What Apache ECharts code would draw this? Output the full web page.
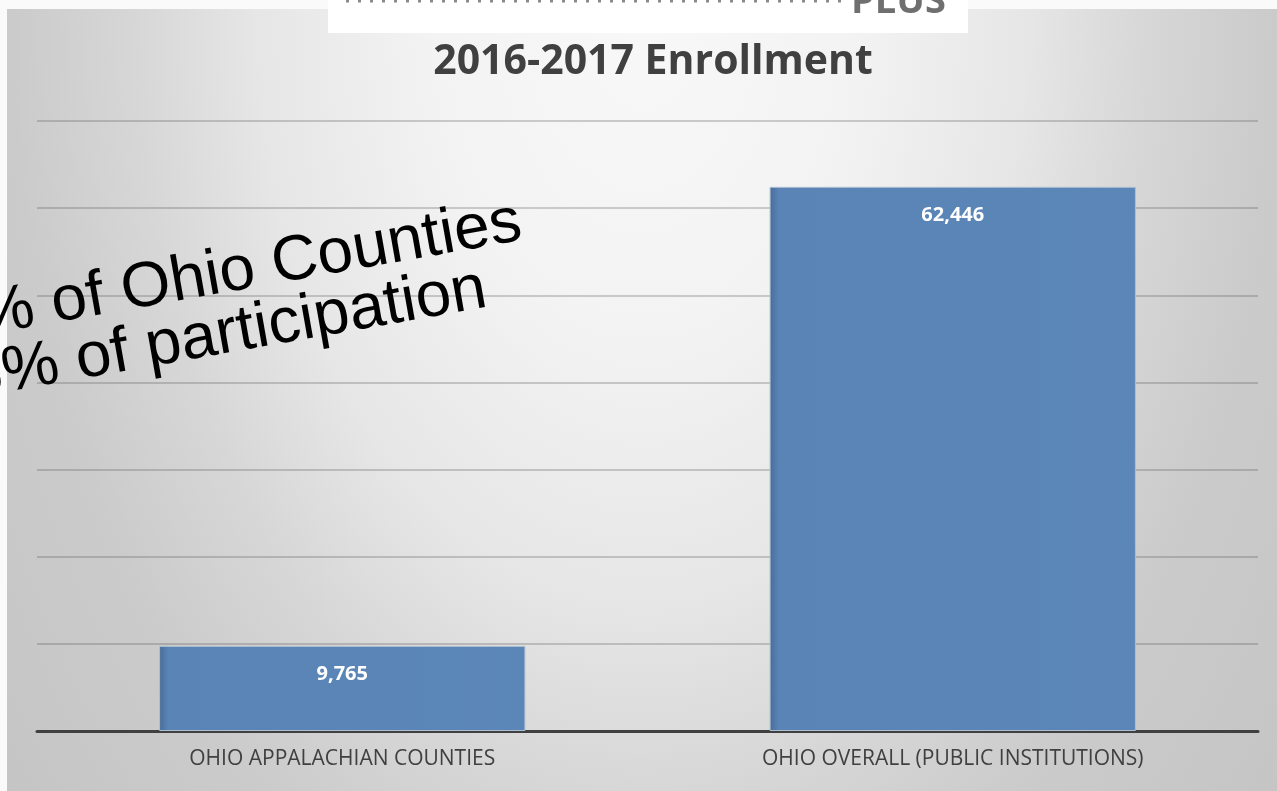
<!DOCTYPE html>
<html>
<head>
<meta charset="utf-8">
<style>html,body{margin:0;padding:0;background:#fafafa;}#c{width:1277px;height:791px;}</style>
<script src="https://cdn.jsdelivr.net/npm/echarts@6/dist/echarts.min.js"></script>
</head>
<body>
<div id="c"></div>
<script>
const titleText = '2016-2017 Enrollment';
const categories = ['OHIO APPALACHIAN COUNTIES', 'OHIO OVERALL (PUBLIC INSTITUTIONS)'];
const enrollment = [9765, 62446];
const overlayLines = ['36% of Ohio Counties', '15% of participation'];
const headerText = 'PLUS';

const chart = echarts.init(document.getElementById('c'), null, {renderer: 'canvas'});

const SY = 1.55;
const bg = new echarts.graphic.RadialGradient(635, 0, 840, [
  {offset: 0, color: '#f8f8f8'},
  {offset: 0.25, color: '#f3f3f3'},
  {offset: 0.46, color: '#e6e6e6'},
  {offset: 0.6, color: '#d7d7d7'},
  {offset: 0.75, color: '#cbcbcb'},
  {offset: 1, color: '#c4c4c4'}
], true);

chart.setOption({
  animation: false,
  backgroundColor: '#fafafa',
  title: {
    text: titleText,
    left: 648,
    top: 37,
    textAlign: 'center',
    textStyle: {fontFamily: 'Open Sans', fontWeight: 'bold', fontSize: 41, color: '#404040'}
  },
  grid: {left: 37, right: 19, top: 121, bottom: 60, containLabel: false},
  xAxis: {
    type: 'category',
    data: categories,
    axisLine: {show: true, lineStyle: {color: '#404040', width: 3}},
    axisTick: {show: false},
    axisLabel: {fontFamily: 'Open Sans', fontSize: 21, color: '#404040', margin: 18}
  },
  yAxis: {
    type: 'value',
    min: 0, max: 70000, interval: 10000,
    axisLabel: {show: false},
    axisLine: {show: false},
    axisTick: {show: false},
    splitLine: {lineStyle: {color: 'rgba(90,90,90,0.38)', width: 1.5}}
  },
  graphic: [
    {type: 'rect', z: -10, silent: true, x: 7, y: 9, scaleY: SY, shape: {x: 0, y: 0, width: 1270, height: 782 / SY}, style: {fill: bg}},
    {type: 'rect', z: 100, silent: true, shape: {x: 328, y: 0, width: 640, height: 33}, style: {fill: '#ffffff'}},
    {type: 'line', z: 101, silent: true, shape: {x1: 346, y1: 1, x2: 842, y2: 1}, style: {stroke: '#8a8a8a', lineWidth: 3, lineDash: [3, 9]}},
    {type: 'text', z: 101, silent: true, x: 851, y: 21, style: {text: headerText, fill: '#6f6f6f', fontFamily: 'Open Sans', fontWeight: 'bold', fontSize: 38, align: 'left', verticalAlign: 'bottom'}},
    {type: 'text', z: 50, silent: true, x: 521, y: 222, rotation: 0.175, style: {text: overlayLines[0], fill: '#000000', fontFamily: 'Liberation Sans', fontSize: 64, align: 'right', verticalAlign: 'middle'}},
    {type: 'text', z: 50, silent: true, x: 486, y: 289, rotation: 0.175, style: {text: overlayLines[1], fill: '#000000', fontFamily: 'Liberation Sans', fontSize: 64, align: 'right', verticalAlign: 'middle'}}
  ],
  series: [{
    type: 'bar',
    data: enrollment,
    barWidth: '60%',
    itemStyle: {
      color: new echarts.graphic.LinearGradient(0, 0, 1, 0, [
        {offset: 0, color: '#476c98'},
        {offset: 0.025, color: '#5a84b6'},
        {offset: 1, color: '#5b86b8'}
      ]),
      borderColor: '#aebfd2',
      borderWidth: 1
    },
    label: {
      show: true,
      position: 'insideTop',
      distance: 18,
      color: '#ffffff',
      fontFamily: 'Open Sans',
      fontWeight: 'bold',
      fontSize: 20,
      formatter: p => p.value.toLocaleString('en-US')
    }
  }]
});
</script>
</body>
</html>
